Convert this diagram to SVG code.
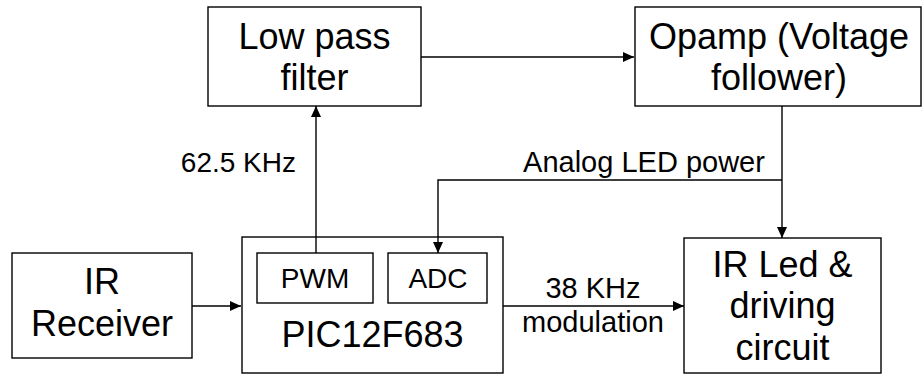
<svg xmlns="http://www.w3.org/2000/svg" width="923" height="378" viewBox="0 0 923 378">
<style>
.box{fill:#fff;stroke:#000;stroke-width:1.4}
.big{font-family:"Liberation Sans",Arial,sans-serif;font-size:36px;fill:#000;text-anchor:middle}
.mid{font-family:"Liberation Sans",Arial,sans-serif;font-size:28px;fill:#000;text-anchor:middle}
.lbl{font-family:"Liberation Sans",Arial,sans-serif;font-size:29px;fill:#000;text-anchor:middle}
.wire{fill:none;stroke:#000;stroke-width:1.4}
</style>
<defs>
<marker id="arr" markerUnits="userSpaceOnUse" markerWidth="11" markerHeight="10" refX="11" refY="5" orient="auto">
<path d="M0,0 L11,5 L0,10 z" fill="#000"/>
</marker>
</defs>
<rect width="923" height="378" fill="#fff"/>
<g id="lpf">
<rect class="box" x="208" y="7" width="213" height="99"/>
<text class="big" x="314.5" y="49">Low pass</text>
<text class="big" x="314.5" y="90">filter</text>
</g>
<g id="opamp">
<rect class="box" x="635" y="7" width="286" height="99"/>
<text class="big" x="779" y="49">Opamp (Voltage</text>
<text class="big" x="779" y="90">follower)</text>
</g>
<g id="irrx">
<rect class="box" x="12" y="253" width="180" height="105"/>
<text class="big" x="102" y="294">IR</text>
<text class="big" x="102" y="336">Receiver</text>
</g>
<g id="pic">
<rect class="box" x="242" y="237" width="261" height="136"/>
<text class="big" x="372.5" y="347">PIC12F683</text>
</g>
<g id="pwm">
<rect class="box" x="257" y="253" width="116" height="50"/>
<text class="mid" x="315" y="288">PWM</text>
</g>
<g id="adc">
<rect class="box" x="388" y="253" width="99" height="50"/>
<text class="mid" x="438" y="288">ADC</text>
</g>
<g id="irled">
<rect class="box" x="684" y="238" width="197" height="135"/>
<text class="big" x="782.5" y="277">IR Led &amp;</text>
<text class="big" x="782.5" y="318">driving</text>
<text class="big" x="782.5" y="360">circuit</text>
</g>
<g id="connectors">
<line class="wire" x1="421" y1="57" x2="634" y2="57" marker-end="url(#arr)"/>
<line class="wire" x1="316" y1="253" x2="316" y2="106" marker-end="url(#arr)"/>
<line class="wire" x1="782" y1="106" x2="782" y2="238" marker-end="url(#arr)"/>
<polyline class="wire" points="782,180 438,180 438,253" marker-end="url(#arr)"/>
<line class="wire" x1="192" y1="306" x2="241" y2="306" marker-end="url(#arr)"/>
<line class="wire" x1="503" y1="306" x2="684" y2="306" marker-end="url(#arr)"/>
<text class="lbl" x="296" y="172" style="text-anchor:end;font-size:28px">62.5 KHz</text>
<text class="lbl" x="644" y="172">Analog LED power</text>
<text class="lbl" x="593" y="298">38 KHz</text>
<text class="lbl" x="593" y="332">modulation</text>
</g>
</svg>
